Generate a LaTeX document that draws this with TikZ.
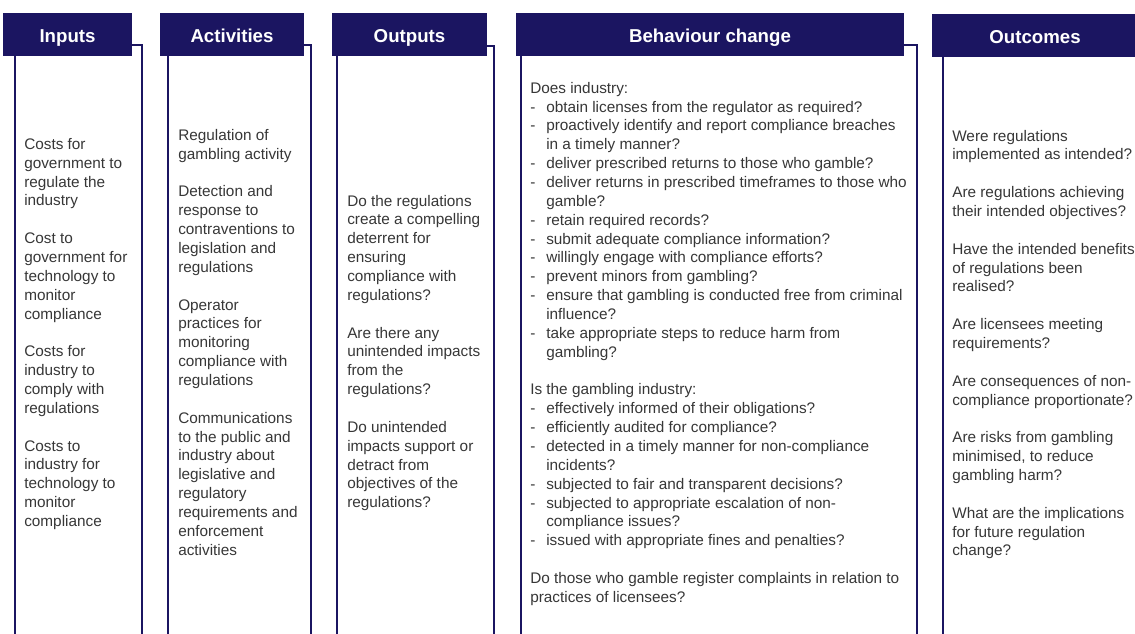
\documentclass[tikz,border=0pt]{standalone}
\usepackage{fontspec}
\setmainfont{Liberation Sans}
\definecolor{navy}{RGB}{27,21,97}
\definecolor{bodygray}{RGB}{55,55,55}

\tikzset{
  headbox/.style={fill=navy, draw=none},
  headlabel/.style={text=white, font=\fontsize{14}{16}\selectfont\bfseries, anchor=base, inner sep=0pt},
  colframe/.style={draw=navy, line width=1.5pt},
  bodyline/.style={text=bodygray, font=\fontsize{11.5}{14}\selectfont, anchor=base west, inner sep=0pt},
}

% one text line per node, 18.86px apart, starting at a given baseline
\newcommand\coltext[4]{%
  \foreach \rowtext [count=\k] in {#4}{
    \node[bodyline] (#1-\k) at (#2, {#3 + (\k-1)*18.86}) {\rowtext};
  }%
}
% frame of a column with its heading bar drawn over the top
\newcommand\colhead[9]{%
  \draw[colframe] (#6,#8) rectangle (#7,650);
  \fill[headbox] (#2,#4) rectangle (#3,#5);
  \node[headlabel] (#1) at ({(#2+#3)/2},#9) {#1};
}
\newcommand\itemdash{\makebox[12pt][l]{-}}
\newcommand\itemcont{\hspace*{12pt}}

\begin{document}
\begin{tikzpicture}[x=0.75pt,y=-0.75pt]
\clip (0,0) rectangle (1135,633);
\fill[white] (0,0) rectangle (1135,633);

% column frames and headings
\draw[colframe] (15,45) rectangle (142,650);
\fill[headbox] (3,13) rectangle (132,56);
\node[headlabel] (h-inputs) at (67.5,42.3) {Inputs};

\draw[colframe] (168,45) rectangle (311,650);
\fill[headbox] (160,13) rectangle (304,56);
\node[headlabel] (h-activities) at (232,42.3) {Activities};

\draw[colframe] (337,46) rectangle (494,650);
\fill[headbox] (332,13) rectangle (487,56);
\node[headlabel] (h-outputs) at (409.5,42.7) {Outputs};

\draw[colframe] (521,45) rectangle (917,650);
\fill[headbox] (516,13) rectangle (904,56);
\node[headlabel] (h-behaviour) at (710,42.5) {Behaviour change};

\draw[colframe] (943,46) rectangle (1150,650);
\fill[headbox] (932,14) rectangle (1150,57);
\node[headlabel] (h-outcomes) at (1035,43.3) {Outcomes};

% column texts
\coltext{in}{24}{149.3}{Costs for,government to,regulate the,industry,,
  Cost to,government for,technology to,monitor,compliance,,
  Costs for,industry to,comply with,regulations,,
  Costs to,industry for,technology to,monitor,compliance}

\coltext{act}{178}{140.3}{Regulation of,gambling activity,,
  Detection and,response to,contraventions to,legislation and,regulations,,
  Operator,practices for,monitoring,compliance with,regulations,,
  Communications,to the public and,industry about,legislative and,regulatory,
  requirements and,enforcement,activities}

\coltext{out}{347}{206}{Do the regulations,create a compelling,deterrent for,ensuring,
  compliance with,regulations?,,
  Are there any,unintended impacts,from the,regulations?,,
  Do unintended,impacts support or,detract from,objectives of the,regulations?}

\coltext{beh}{530}{93.2}{Does industry:,
  \itemdash obtain licenses from the regulator as required?,
  \itemdash proactively identify and report compliance breaches,
  \itemcont in a timely manner?,
  \itemdash deliver prescribed returns to those who gamble?,
  \itemdash deliver returns in prescribed timeframes to those who,
  \itemcont gamble?,
  \itemdash retain required records?,
  \itemdash submit adequate compliance information?,
  \itemdash willingly engage with compliance efforts?,
  \itemdash prevent minors from gambling?,
  \itemdash ensure that gambling is conducted free from criminal,
  \itemcont influence?,
  \itemdash take appropriate steps to reduce harm from,
  \itemcont gambling?,,
  Is the gambling industry:,
  \itemdash effectively informed of their obligations?,
  \itemdash efficiently audited for compliance?,
  \itemdash detected in a timely manner for non-compliance,
  \itemcont incidents?,
  \itemdash subjected to fair and transparent decisions?,
  \itemdash subjected to appropriate escalation of non-,
  \itemcont compliance issues?,
  \itemdash issued with appropriate fines and penalties?,,
  Do those who gamble register complaints in relation to,
  practices of licensees?}

\coltext{oc}{952}{141}{Were regulations,implemented as intended?,,
  Are regulations achieving,their intended objectives?,,
  Have the intended benefits,of regulations been,realised?,,
  Are licensees meeting,requirements?,,
  Are consequences of non-,compliance proportionate?,,
  Are risks from gambling,{minimised, to reduce},gambling harm?,,
  What are the implications,for future regulation,change?}
\end{tikzpicture}
\end{document}
